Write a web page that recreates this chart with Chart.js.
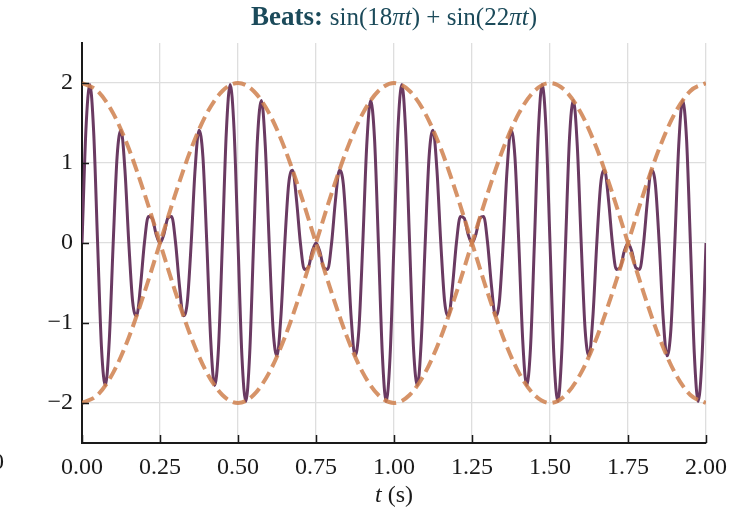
<!DOCTYPE html>
<html>
<head>
<meta charset="utf-8">
<title>Beats</title>
<script src="https://cdn.jsdelivr.net/npm/chart.js@4.4.1/dist/chart.umd.min.js"></script>
<style>
  html, body { margin: 0; padding: 0; background: #ffffff; }
  canvas { display: block; }
</style>
</head>
<body>
<canvas id="beats" width="754" height="510"></canvas>
<script>
// sample times (s) for the summed signal
const signalT = [
  0, 0.0125, 0.025, 0.0375, 0.05, 0.0625, 0.075, 0.0875,
  0.1, 0.1125, 0.125, 0.1375, 0.15, 0.1625, 0.175, 0.1875,
  0.2, 0.2125, 0.225, 0.2375, 0.25, 0.2625, 0.275, 0.2875,
  0.3, 0.3125, 0.325, 0.3375, 0.35, 0.3625, 0.375, 0.3875,
  0.4, 0.4125, 0.425, 0.4375, 0.45, 0.4625, 0.475, 0.4875,
  0.5, 0.5125, 0.525, 0.5375, 0.55, 0.5625, 0.575, 0.5875,
  0.6, 0.6125, 0.625, 0.6375, 0.65, 0.6625, 0.675, 0.6875,
  0.7, 0.7125, 0.725, 0.7375, 0.75, 0.7625, 0.775, 0.7875,
  0.8, 0.8125, 0.825, 0.8375, 0.85, 0.8625, 0.875, 0.8875,
  0.9, 0.9125, 0.925, 0.9375, 0.95, 0.9625, 0.975, 0.9875,
  1, 1.0125, 1.025, 1.0375, 1.05, 1.0625, 1.075, 1.0875,
  1.1, 1.1125, 1.125, 1.1375, 1.15, 1.1625, 1.175, 1.1875,
  1.2, 1.2125, 1.225, 1.2375, 1.25, 1.2625, 1.275, 1.2875,
  1.3, 1.3125, 1.325, 1.3375, 1.35, 1.3625, 1.375, 1.3875,
  1.4, 1.4125, 1.425, 1.4375, 1.45, 1.4625, 1.475, 1.4875,
  1.5, 1.5125, 1.525, 1.5375, 1.55, 1.5625, 1.575, 1.5875,
  1.6, 1.6125, 1.625, 1.6375, 1.65, 1.6625, 1.675, 1.6875,
  1.7, 1.7125, 1.725, 1.7375, 1.75, 1.7625, 1.775, 1.7875,
  1.8, 1.8125, 1.825, 1.8375, 1.85, 1.8625, 1.875, 1.8875,
  1.9, 1.9125, 1.925, 1.9375, 1.95, 1.9625, 1.975, 1.9875,
  2
];

// sin(18πt) + sin(22πt) at those times
const signalY = [
  0, 1.41, 1.98, 1.38, 0, -1.31, -1.78, -1.21,
  0, 1.08, 1.41, 0.92, 0, -0.74, -0.91, -0.54,
  0, 0.33, 0.31, 0.11, 0, 0.11, 0.31, 0.33,
  0, -0.54, -0.91, -0.74, 0, 0.92, 1.41, 1.08,
  0, -1.21, -1.78, -1.31, 0, 1.38, 1.98, 1.41,
  0, -1.41, -1.98, -1.38, 0, 1.31, 1.78, 1.21,
  0, -1.08, -1.41, -0.92, 0, 0.74, 0.91, 0.54,
  0, -0.33, -0.31, -0.11, 0, -0.11, -0.31, -0.33,
  0, 0.54, 0.91, 0.74, 0, -0.92, -1.41, -1.08,
  0, 1.21, 1.78, 1.31, 0, -1.38, -1.98, -1.41,
  0, 1.41, 1.98, 1.38, 0, -1.31, -1.78, -1.21,
  0, 1.08, 1.41, 0.92, 0, -0.74, -0.91, -0.54,
  0, 0.33, 0.31, 0.11, 0, 0.11, 0.31, 0.33,
  0, -0.54, -0.91, -0.74, 0, 0.92, 1.41, 1.08,
  0, -1.21, -1.78, -1.31, 0, 1.38, 1.98, 1.41,
  0, -1.41, -1.98, -1.38, 0, 1.31, 1.78, 1.21,
  0, -1.08, -1.41, -0.92, 0, 0.74, 0.91, 0.54,
  0, -0.33, -0.31, -0.11, 0, -0.11, -0.31, -0.33,
  0, 0.54, 0.91, 0.74, 0, -0.92, -1.41, -1.08,
  0, 1.21, 1.78, 1.31, 0, -1.38, -1.98, -1.41,
  0
];

// envelope ±2cos(2πt)
const envelopeT = [
  0, 0.05, 0.1, 0.15, 0.2, 0.25, 0.3, 0.35, 0.4, 0.45,
  0.5, 0.55, 0.6, 0.65, 0.7, 0.75, 0.8, 0.85, 0.9, 0.95,
  1, 1.05, 1.1, 1.15, 1.2, 1.25, 1.3, 1.35, 1.4, 1.45,
  1.5, 1.55, 1.6, 1.65, 1.7, 1.75, 1.8, 1.85, 1.9, 1.95,
  2
];
const envelopeUpper = [
  2, 1.90, 1.62, 1.18, 0.62, 0, -0.62, -1.18, -1.62, -1.90,
  -2, -1.90, -1.62, -1.18, -0.62, 0, 0.62, 1.18, 1.62, 1.90,
  2, 1.90, 1.62, 1.18, 0.62, 0, -0.62, -1.18, -1.62, -1.90,
  -2, -1.90, -1.62, -1.18, -0.62, 0, 0.62, 1.18, 1.62, 1.90,
  2
];
const envelopeLower = [
  -2, -1.90, -1.62, -1.18, -0.62, 0, 0.62, 1.18, 1.62, 1.90,
  2, 1.90, 1.62, 1.18, 0.62, 0, -0.62, -1.18, -1.62, -1.90,
  -2, -1.90, -1.62, -1.18, -0.62, 0, 0.62, 1.18, 1.62, 1.90,
  2, 1.90, 1.62, 1.18, 0.62, 0, -0.62, -1.18, -1.62, -1.90,
  -2
];

const xTicks = [0, 0.25, 0.5, 0.75, 1, 1.25, 1.5, 1.75, 2];
const yTicks = [-2, -1, 0, 1, 2];

const SERIF = '"Liberation Serif", "DejaVu Serif", serif';
const INK = '#1a1a1a';
const TITLE_INK = '#1b4a5a';

const titleRuns = [
  { text: 'Beats: ', font: 'bold 27px ' + SERIF, color: TITLE_INK },
  { text: 'sin(18', font: '25px ' + SERIF, color: TITLE_INK },
  { text: 'πt', font: 'italic 25px ' + SERIF, color: TITLE_INK },
  { text: ') + sin(22', font: '25px ' + SERIF, color: TITLE_INK },
  { text: 'πt', font: 'italic 25px ' + SERIF, color: TITLE_INK },
  { text: ')', font: '25px ' + SERIF, color: TITLE_INK }
];
const xLabelRuns = [
  { text: 't', font: 'italic 24px ' + SERIF, color: INK },
  { text: ' (s)', font: '24px ' + SERIF, color: INK }
];

function toPoints(xs, ys) {
  return xs.map((x, i) => ({ x: x, y: ys[i] }));
}

function drawRuns(ctx, runs, cx, cy) {
  let w = 0;
  runs.forEach(r => { ctx.font = r.font; w += ctx.measureText(r.text).width; });
  let x = cx - w / 2;
  ctx.textAlign = 'left';
  ctx.textBaseline = 'middle';
  runs.forEach(r => {
    ctx.font = r.font;
    ctx.fillStyle = r.color;
    ctx.fillText(r.text, x, cy);
    x += ctx.measureText(r.text).width;
  });
}

// inward tick marks, mixed-style title and axis label
const decorations = {
  id: 'decorations',
  afterDraw(chart) {
    const { ctx, chartArea, scales } = chart;
    ctx.save();
    ctx.strokeStyle = INK;
    ctx.lineWidth = 1.5;
    ctx.beginPath();
    xTicks.forEach(v => {
      const px = Math.round(scales.x.getPixelForValue(v)) + 0.5;
      ctx.moveTo(px, chartArea.bottom);
      ctx.lineTo(px, chartArea.bottom - 8);
    });
    yTicks.forEach(v => {
      const py = Math.round(scales.y.getPixelForValue(v)) + 0.5;
      ctx.moveTo(chartArea.left, py);
      ctx.lineTo(chartArea.left + 7, py);
    });
    ctx.stroke();

    const cx = (chartArea.left + chartArea.right) / 2;
    drawRuns(ctx, titleRuns, cx, 18);
    drawRuns(ctx, xLabelRuns, cx, 496);

    // edge of a neighbouring label
    ctx.font = '24px ' + SERIF;
    ctx.fillStyle = INK;
    ctx.textAlign = 'right';
    ctx.textBaseline = 'middle';
    ctx.fillText('0', 4, 463);
    ctx.restore();
  }
};

const ctx = document.getElementById('beats');
new Chart(ctx, {
  type: 'line',
  data: {
    datasets: [
      {
        label: 'envelope +',
        data: toPoints(envelopeT, envelopeUpper),
        borderColor: 'rgba(207, 128, 78, 0.85)',
        borderWidth: 4,
        borderDash: [13, 6],
        cubicInterpolationMode: 'monotone',
        order: 1
      },
      {
        label: 'envelope −',
        data: toPoints(envelopeT, envelopeLower),
        borderColor: 'rgba(207, 128, 78, 0.85)',
        borderWidth: 4,
        borderDash: [13, 6],
        cubicInterpolationMode: 'monotone',
        order: 1
      },
      {
        label: 'signal',
        data: toPoints(signalT, signalY),
        borderColor: '#6a3a62',
        borderWidth: 3,
        cubicInterpolationMode: 'monotone',
        order: 2
      }
    ]
  },
  options: {
    responsive: false,
    animation: false,
    layout: { padding: { top: 43, right: 48, left: 0, bottom: 0 } },
    elements: { point: { radius: 0 } },
    plugins: {
      legend: { display: false },
      tooltip: { enabled: false }
    },
    scales: {
      x: {
        type: 'linear',
        min: 0,
        max: 2,
        afterBuildTicks: s => { s.ticks = xTicks.map(v => ({ value: v })); },
        afterFit: s => { s.height = 67; },
        grid: { color: '#dedede', lineWidth: 1.3, drawTicks: false },
        border: { display: true, color: INK, width: 2 },
        ticks: {
          padding: 10,
          color: INK,
          font: { family: SERIF, size: 24 },
          callback: v => Number(v).toFixed(2)
        }
      },
      y: {
        type: 'linear',
        min: -2.5,
        max: 2.5,
        afterBuildTicks: s => { s.ticks = yTicks.map(v => ({ value: v })); },
        afterFit: s => { s.width = 82; },
        grid: { color: '#dedede', lineWidth: 1.3, drawTicks: false },
        border: { display: true, color: INK, width: 2 },
        ticks: {
          padding: 9,
          color: INK,
          font: { family: SERIF, size: 24 },
          callback: v => (v < 0 ? '\u2212' + Math.abs(v) : String(v))
        }
      }
    }
  },
  plugins: [decorations]
});
</script>
</body>
</html>
